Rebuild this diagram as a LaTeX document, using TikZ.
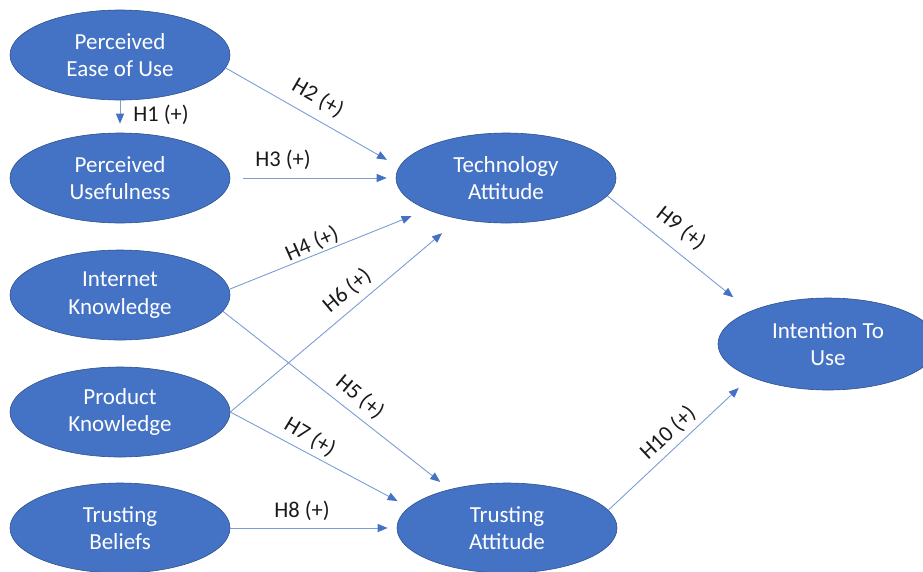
\documentclass[tikz,border=0pt]{standalone}
\usepackage{fontspec}
\setmainfont{Carlito}
\usetikzlibrary{arrows.meta,shapes.geometric}
\definecolor{nodeblue}{HTML}{4472C4}
\definecolor{nodeedge}{HTML}{2F528F}
\definecolor{linkblue}{HTML}{7C9CD6}
\definecolor{labeltext}{HTML}{1A1A1A}
\begin{document}
\begin{tikzpicture}[x=1pt,y=-1pt,
  construct/.style={ellipse,fill=nodeblue,draw=nodeedge,line width=0.6pt,
    minimum width=220pt,minimum height=90pt,inner sep=0pt,
    text=white,align=center,font=\fontsize{23}{27.5}\selectfont},
  link/.style={draw=linkblue,line width=0.9pt,
    -{Triangle[length=10pt,width=8pt,color=nodeblue]}},
  hyp/.style={text=labeltext,font=\fontsize{22.5}{27}\selectfont,inner sep=0pt}]
\useasboundingbox (0,0) rectangle (923,571);
\node[construct] (peou) at (120,55) {Perceived\\Ease of Use};
\node[construct] (pu) at (120,178) {Perceived\\Usefulness};
\node[construct] (ik) at (120,295) {Internet\\Knowledge};
\node[construct] (pk) at (120,412) {Product\\Knowledge};
\node[construct] (tb) at (120,528) {Trusting\\Beliefs};
\node[construct] (ta) at (506,178) {Technology\\Attitude};
\node[construct] (tra) at (507,528) {Trusting\\Attitude};
\node[construct,minimum height=92pt] (itu) at (828,344) {Intention To\\Use};

\draw[link,shorten >=9pt] (peou.south) -- (pu.north);
\draw[link,shorten >=14pt] (peou.-7) -- (ta.174);
\draw[link,shorten <=13pt,shorten >=9pt] (pu.east) -- (ta.west);
\draw[link,shorten >=17pt] (ik.3) -- (ta.202);
\draw[link,shorten >=12pt] (ik.-9) -- (tra.146);
\draw[link,shorten >=22pt] (pk.east) -- (ta.221.5);
\draw[link,shorten >=13pt] (pk.east) -- (tra.168.6);
\draw[link,shorten >=9pt] (tb.east) -- (tra.west);
\draw[link,shorten >=22pt] (ta.-10.5) -- (itu.157);
\draw[link,shorten >=16pt] (tra.10) -- (itu.203.3);

\node[hyp] (l1) at (161,115) {H1 (+)};
\node[hyp,rotate=-30] (l2) at (318,98) {H2 (+)};
\node[hyp] (l3) at (283,160) {H3 (+)};
\node[hyp,rotate=24] (l4) at (312,244) {H4 (+)};
\node[hyp,rotate=-40] (l5) at (360,397) {H5 (+)};
\node[hyp,rotate=40] (l6) at (347,291) {H6 (+)};
\node[hyp,rotate=-31] (l7) at (310,437) {H7 (+)};
\node[hyp] (l8) at (302,511) {H8 (+)};
\node[hyp,rotate=-38] (l9) at (681,228) {H9 (+)};
\node[hyp,rotate=43] (l10) at (668,433) {H10 (+)};
\end{tikzpicture}
\end{document}
